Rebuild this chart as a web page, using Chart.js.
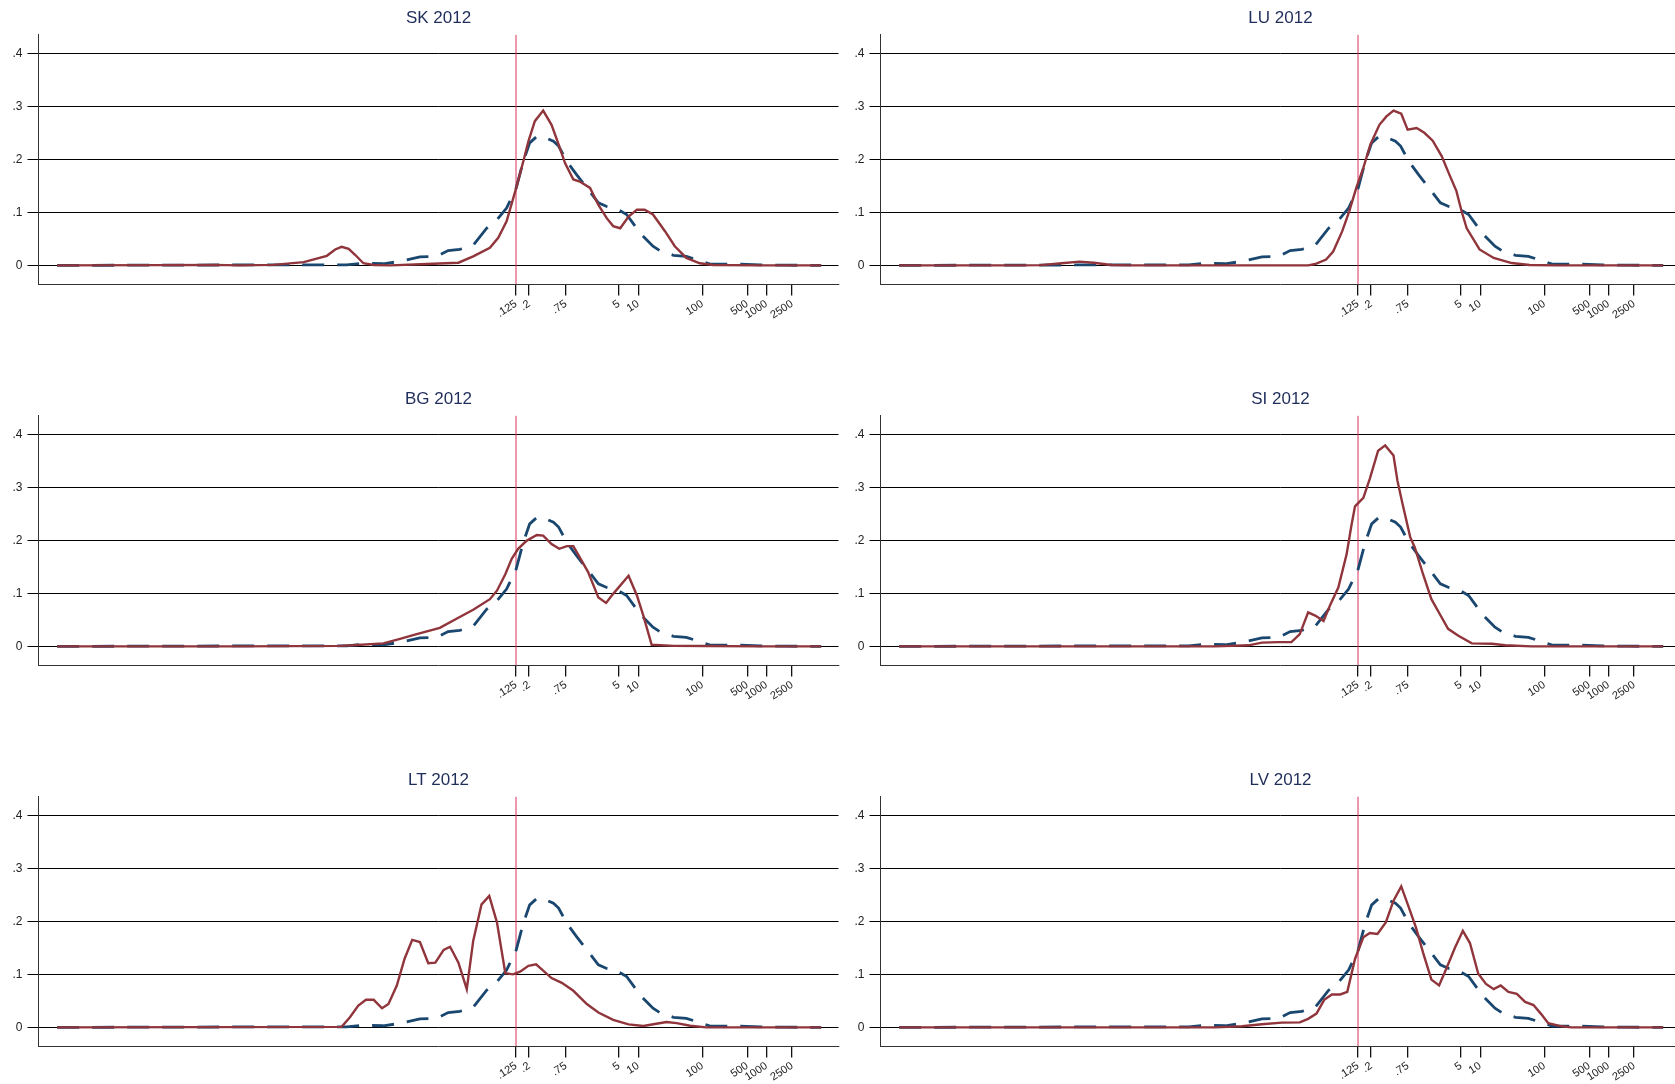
<!DOCTYPE html>
<html>
<head>
<meta charset="utf-8">
<title>Density 2012</title>
<script src="https://cdn.jsdelivr.net/npm/chart.js@4.4.1/dist/chart.umd.min.js"></script>
<style>
  html, body { margin: 0; padding: 0; background: #fff; }
  body { width: 1675px; height: 1084px; overflow: hidden; position: relative; }
  .panel { position: absolute; width: 842px; height: 381px; }
</style>
</head>
<body>
<div class="panel" style="left:0;top:0"><canvas id="c0" width="842" height="381"></canvas></div>
<div class="panel" style="left:842px;top:0"><canvas id="c1" width="842" height="381"></canvas></div>
<div class="panel" style="left:0;top:381px"><canvas id="c2" width="842" height="381"></canvas></div>
<div class="panel" style="left:842px;top:381px"><canvas id="c3" width="842" height="381"></canvas></div>
<div class="panel" style="left:0;top:762px"><canvas id="c4" width="842" height="381"></canvas></div>
<div class="panel" style="left:842px;top:762px"><canvas id="c5" width="842" height="381"></canvas></div>
<script>
// x values are log10 of the amount, y values are densities
const xTickValues = [0.125, 0.2, 0.75, 5, 10, 100, 500, 1000, 2500];
const xTickLabels = ['.125', '.2', '.75', '5', '10', '100', '500', '1000', '2500'];
const yTickValues = [0, 0.1, 0.2, 0.3, 0.4];
const yTickLabels = ['0', '.1', '.2', '.3', '.4'];
const thresholdValue = 0.125;

const panelTitles = ['SK 2012', 'LU 2012', 'BG 2012', 'SI 2012', 'LT 2012', 'LV 2012'];

// reference distribution (dashed), same in every panel
const euReference = [
  [-8.05, 0], [-6.0, 0.0005], [-5.2, 0.0008], [-4.47, 0.001], [-3.54, 0.001], [-3.3, 0.004],
  [-2.97, 0.003], [-2.71, 0.0075], [-2.4, 0.016], [-2.14, 0.017], [-1.96, 0.028], [-1.78, 0.030],
  [-1.57, 0.038], [-1.36, 0.070], [-1.2, 0.086], [-1.05, 0.108], [-0.9, 0.146], [-0.79, 0.196],
  [-0.69, 0.231], [-0.58, 0.243], [-0.48, 0.243], [-0.32, 0.234], [-0.24, 0.225], [-0.11, 0.196],
  [0.04, 0.171], [0.2, 0.146], [0.38, 0.118], [0.51, 0.111], [0.66, 0.107], [0.82, 0.096],
  [1.05, 0.058], [1.23, 0.036], [1.36, 0.026], [1.55, 0.019], [1.75, 0.017], [1.96, 0.009],
  [2.12, 0.0025], [2.32, 0.0025], [2.69, 0.002], [2.9, 0.001], [3.3, 0.0003], [3.85, 0]
];

const skDensity = [
  [-8.05, 0], [-6.5, 0.0005], [-5.6, 0.001], [-5.2, 0], [-4.68, 0.001], [-4.21, 0.006],
  [-3.85, 0.018], [-3.72, 0.030], [-3.62, 0.035], [-3.51, 0.031], [-3.41, 0.020], [-3.28, 0.004],
  [-3.12, 0.0006], [-2.86, 0], [-2.29, 0.0025], [-1.8, 0.005], [-1.57, 0.017], [-1.31, 0.033],
  [-1.18, 0.052], [-1.05, 0.083], [-0.9, 0.146], [-0.79, 0.196], [-0.71, 0.234], [-0.61, 0.272],
  [-0.48, 0.292], [-0.35, 0.265], [-0.24, 0.228], [-0.14, 0.193], [-0.01, 0.162], [0.09, 0.158],
  [0.25, 0.146], [0.38, 0.114], [0.51, 0.089], [0.61, 0.074], [0.72, 0.070], [0.85, 0.092],
  [0.98, 0.105], [1.1, 0.105], [1.23, 0.096], [1.42, 0.064], [1.57, 0.036], [1.75, 0.014],
  [1.96, 0.004], [2.17, 0.0006], [2.9, 0], [3.85, 0]
];

const luDensity = [
  [-8.05, 0], [-6.2, 0], [-5.85, 0.0005], [-5.52, 0.004], [-5.24, 0.007], [-5.02, 0.005],
  [-4.74, 0.0006], [-4.46, 0], [-1.68, 0], [-1.57, 0.0025], [-1.4, 0.011], [-1.29, 0.026],
  [-1.15, 0.064], [-1.04, 0.102], [-0.93, 0.146], [-0.82, 0.184], [-0.71, 0.228], [-0.57, 0.265],
  [-0.46, 0.281], [-0.35, 0.292], [-0.23, 0.286], [-0.13, 0.256], [0.01, 0.259], [0.13, 0.250],
  [0.26, 0.235], [0.4, 0.206], [0.51, 0.174], [0.63, 0.140], [0.71, 0.102], [0.79, 0.070],
  [0.99, 0.030], [1.21, 0.014], [1.49, 0.0044], [1.77, 0.0006], [2.2, 0], [3.85, 0]
];

const bgDensity = [
  [-8.05, 0], [-5.2, 0], [-3.64, 0.001], [-3.38, 0.0025], [-2.97, 0.0057], [-2.71, 0.014],
  [-2.45, 0.023], [-2.09, 0.035], [-1.83, 0.052], [-1.57, 0.069], [-1.31, 0.089], [-1.2, 0.105],
  [-1.07, 0.136], [-0.97, 0.165], [-0.87, 0.184], [-0.74, 0.199], [-0.58, 0.210], [-0.48, 0.209],
  [-0.35, 0.193], [-0.23, 0.184], [-0.11, 0.189], [-0.01, 0.189], [0.09, 0.168], [0.22, 0.140],
  [0.38, 0.092], [0.5, 0.082], [0.61, 0.099], [0.85, 0.133], [0.98, 0.096], [1.08, 0.058],
  [1.21, 0.003], [1.55, 0.001], [2.06, 0.0006], [2.9, 0], [3.85, 0]
];

const siDensity = [
  [-8.05, 0], [-3.13, 0], [-2.61, 0.002], [-2.4, 0.007], [-2.14, 0.008], [-1.94, 0.008],
  [-1.81, 0.023], [-1.68, 0.064], [-1.57, 0.058], [-1.44, 0.048], [-1.34, 0.077], [-1.21, 0.111],
  [-1.08, 0.174], [-1.01, 0.225], [-0.95, 0.264], [-0.82, 0.280], [-0.72, 0.316], [-0.59, 0.369],
  [-0.48, 0.379], [-0.35, 0.360], [-0.29, 0.313], [-0.21, 0.269], [-0.09, 0.206], [-0.02, 0.187],
  [0.11, 0.136], [0.24, 0.089], [0.37, 0.061], [0.5, 0.033], [0.66, 0.020], [0.87, 0.0057],
  [1.18, 0.005], [1.39, 0.002], [1.8, 0], [3.85, 0]
];

const ltDensity = [
  [-8.05, 0], [-3.62, 0.001], [-3.49, 0.019], [-3.36, 0.041], [-3.24, 0.052], [-3.12, 0.052],
  [-2.99, 0.036], [-2.89, 0.044], [-2.76, 0.079], [-2.64, 0.129], [-2.52, 0.165], [-2.4, 0.161],
  [-2.27, 0.121], [-2.16, 0.122], [-2.03, 0.146], [-1.93, 0.152], [-1.8, 0.122], [-1.67, 0.072],
  [-1.57, 0.163], [-1.44, 0.232], [-1.32, 0.248], [-1.2, 0.198], [-1.07, 0.102], [-0.95, 0.100],
  [-0.84, 0.105], [-0.71, 0.116], [-0.59, 0.119], [-0.48, 0.107], [-0.35, 0.093], [-0.19, 0.084],
  [-0.01, 0.069], [0.2, 0.044], [0.38, 0.028], [0.61, 0.014], [0.85, 0.0057], [1.08, 0.0025],
  [1.26, 0.0063], [1.44, 0.010], [1.6, 0.008], [1.81, 0.003], [2.06, 0], [3.85, 0]
];

const lvDensity = [
  [-8.05, 0], [-3.13, 0], [-2.71, 0.002], [-2.4, 0.006], [-2.09, 0.009], [-1.81, 0.0094],
  [-1.68, 0.016], [-1.55, 0.026], [-1.43, 0.052], [-1.31, 0.062], [-1.18, 0.062], [-1.07, 0.067],
  [-0.95, 0.129], [-0.82, 0.170], [-0.72, 0.178], [-0.6, 0.176], [-0.47, 0.198], [-0.35, 0.239],
  [-0.23, 0.266], [-0.12, 0.229], [0, 0.188], [0.11, 0.141], [0.24, 0.090], [0.36, 0.079],
  [0.48, 0.113], [0.61, 0.151], [0.73, 0.182], [0.84, 0.159], [0.97, 0.101], [1.09, 0.082],
  [1.21, 0.072], [1.32, 0.079], [1.44, 0.067], [1.57, 0.063], [1.7, 0.048], [1.83, 0.042],
  [1.95, 0.025], [2.06, 0.008], [2.27, 0.002], [2.42, 0], [3.85, 0]
];

const panelDensities = [skDensity, luDensity, bgDensity, siDensity, ltDensity, lvDensity];

// axis ranges
const xMin = -8.341;
const xMax = 4.12;
const yMin = -0.0359;
const yMax = 0.4352;

const fontFamily = '"Liberation Sans", Arial, Helvetica, sans-serif';

function toPoints(pairs) {
  return pairs.map(([x, y]) => ({ x: x, y: y }));
}

panelTitles.forEach((title, i) => {
  const ctx = document.getElementById('c' + i).getContext('2d');
  new Chart(ctx, {
    type: 'line',
    data: {
      datasets: [
        {
          data: toPoints(panelDensities[i]),
          borderColor: '#90353b',
          borderWidth: 2.4,
          pointRadius: 0,
          tension: 0,
          fill: false
        },
        {
          data: toPoints(euReference),
          borderColor: '#1a476f',
          borderWidth: 2.8,
          borderDash: [22, 13],
          pointRadius: 0,
          tension: 0,
          fill: false
        },
        {
          // vertical marker at .125
          data: [{ x: Math.log10(thresholdValue), y: yMin }, { x: Math.log10(thresholdValue), y: yMax }],
          borderColor: '#d8325c',
          borderWidth: 1,
          pointRadius: 0,
          fill: false
        }
      ]
    },
    options: {
      responsive: false,
      animation: false,
      devicePixelRatio: 1,
      layout: { padding: { left: 0, right: 3.5, top: 0, bottom: 0 } },
      plugins: {
        legend: { display: false },
        tooltip: { enabled: false },
        title: {
          display: true,
          text: title,
          fullSize: false,
          color: '#1f2d5b',
          font: { family: fontFamily, size: 17, weight: 'normal', lineHeight: 1.2 },
          padding: { top: 7.9, bottom: 6.3 }
        }
      },
      scales: {
        x: {
          type: 'linear',
          min: xMin,
          max: xMax,
          afterBuildTicks: (scale) => {
            scale.ticks = xTickValues.map(v => ({ value: Math.log10(v) }));
          },
          afterFit: (scale) => { scale.height = 96.6; },
          grid: { drawOnChartArea: false, drawTicks: true, tickLength: 11, color: '#111', lineWidth: 1.3 },
          border: { display: true, color: '#333', width: 1 },
          ticks: {
            autoSkip: false,
            minRotation: 33,
            maxRotation: 33,
            padding: 2,
            color: '#222',
            font: { family: fontFamily, size: 11 },
            callback: (value, index) => xTickLabels[index]
          }
        },
        y: {
          min: yMin,
          max: yMax,
          afterBuildTicks: (scale) => {
            scale.ticks = yTickValues.map(v => ({ value: v }));
          },
          afterFit: (scale) => { scale.width = 38.5; },
          grid: { color: '#000', lineWidth: 1, drawTicks: true, tickLength: 11 },
          border: { display: true, color: '#333', width: 1 },
          ticks: {
            padding: 5,
            color: '#222',
            font: { family: fontFamily, size: 12 },
            callback: (value, index) => yTickLabels[index]
          }
        }
      }
    }
  });
});
</script>
</body>
</html>
